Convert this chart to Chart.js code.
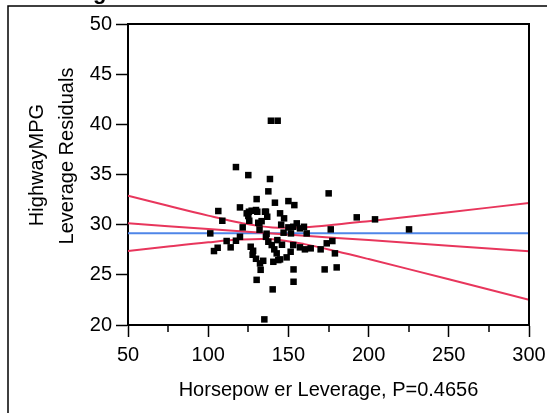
<!DOCTYPE html>
<html>
<head>
<meta charset="utf-8">
<script src="https://cdn.jsdelivr.net/npm/chart.js@4.4.0/dist/chart.umd.min.js"></script>
<style>
html, body { margin: 0; padding: 0; background: #fff; overflow: hidden; }
#wrap { position: relative; width: 547px; height: 413px; }
</style>
</head>
<body>
<div id="wrap"><canvas id="grafico" width="547" height="413"></canvas></div>
<script>
// puntos (Horsepower leverage, HighwayMPG leverage residual)
var HP = [101.3, 103.6, 106.3, 105.9, 108.8, 111.5, 114.0, 117.3, 117.3, 119.8,
          119.8, 121.5, 125.0, 124.0, 125.4, 125.0, 125.6, 126.5, 127.1, 127.7,
          129.8, 129.8, 130.2, 130.2, 131.2, 132.3, 132.7, 133.3, 134.3, 135.4,
          136.0, 136.4, 136.8, 137.5, 138.5, 140.2, 141.6, 135.0, 139.1, 143.3,
          137.5, 139.6, 141.2, 142.7, 143.1, 140.6, 143.7, 144.8, 147.3, 150.0,
          153.7, 150.0, 153.0, 155.2, 157.2, 159.7, 161.4, 151.6, 153.0, 151.4,
          148.9, 144.8, 157.2, 160.3, 163.9, 170.1, 173.9, 177.4, 179.0, 153.2,
          153.2, 172.6, 180.1, 175.1, 176.4, 192.6, 204.0, 225.2, 131.9, 130.6,
          136.0, 145.5, 147.0, 146.0, 128.0, 132.0];
var RESID = [29.13, 27.37, 31.36, 27.70, 30.39, 28.37, 27.74, 35.74, 28.40, 31.72,
             28.79, 29.73, 34.94, 31.13, 31.29, 30.86, 30.39, 27.80, 31.39, 27.00,
             31.46, 26.60, 32.55, 24.50, 30.19, 26.14, 25.50, 30.35, 26.40, 31.29,
             28.79, 29.10, 30.79, 33.32, 34.55, 23.55, 32.19, 20.56, 40.36, 40.36,
             28.30, 27.97, 27.54, 27.14, 28.46, 26.30, 26.47, 31.13, 30.63, 32.35,
             31.95, 29.73, 29.79, 30.13, 29.63, 29.79, 29.13, 29.13, 27.97, 27.30,
             26.74, 26.54, 27.74, 27.54, 27.64, 27.54, 28.14, 28.37, 27.14, 25.54,
             24.31, 25.54, 25.74, 33.12, 29.53, 30.73, 30.53, 29.53, 30.13, 31.29,
             31.29, 30.00, 29.20, 28.00, 27.40, 29.50];

// recta de ajuste y bandas de confianza
var LINEA_X = [50, 75, 100, 120, 140, 160, 180, 200, 250, 300];
var AJUSTE = [30.13, 29.85, 29.57, 29.35, 29.13, 28.90, 28.68, 28.46, 27.90, 27.34];
var SUPERIOR = [32.89, 31.88, 30.90, 30.19, 29.72, 29.74, 30.01, 30.35, 31.24, 32.16];
var INFERIOR = [27.37, 27.82, 28.24, 28.51, 28.54, 28.06, 27.35, 26.57, 24.56, 22.52];
var MEDIA_Y = 29.15;

var X_MIN = 50, X_MAX = 300, X_PASO = 50, X_MENOR = 25;
var Y_MIN = 20, Y_MAX = 50, Y_PASO = 5;

var TITULO = 'Leverage Plot';
var TITULO_X = 'Horsepow er Leverage, P=0.4656';
var TITULO_Y = ['HighwayMPG', 'Leverage Residuals'];

var FUENTE = '"Liberation Sans", Arial, Helvetica, sans-serif';

function armarPuntos(xs, ys) {
    var arr = [];
    for (var i = 0; i < xs.length; i++) {
        arr.push({x: xs[i], y: ys[i]});
    }
    return arr;
}

var marcoPlugin = {
    id: 'marco',
    beforeDraw: function (chart) {
        var ctx = chart.ctx;
        ctx.save();
        ctx.fillStyle = '#fff';
        ctx.fillRect(0, 0, chart.width, chart.height);
        ctx.restore();
    },
    afterDraw: function (chart) {
        var ctx = chart.ctx;
        var a = chart.chartArea;
        var xs = chart.scales.x;
        ctx.save();
        // marco exterior
        ctx.strokeStyle = '#000';
        ctx.lineWidth = 1.5;
        ctx.beginPath();
        ctx.moveTo(8, chart.height);
        ctx.lineTo(8, 6);
        ctx.lineTo(chart.width, 6);
        ctx.stroke();
        // lados superior y derecho del grafico
        ctx.lineWidth = 2;
        ctx.beginPath();
        ctx.moveTo(a.left, a.top);
        ctx.lineTo(a.right, a.top);
        ctx.lineTo(a.right, a.bottom);
        ctx.stroke();
        // marcas menores del eje x
        ctx.lineWidth = 1.5;
        for (var v = X_MIN + X_MENOR; v < X_MAX; v += X_PASO) {
            var px = Math.round(xs.getPixelForValue(v));
            ctx.beginPath();
            ctx.moveTo(px, a.bottom);
            ctx.lineTo(px, a.bottom + 7);
            ctx.stroke();
        }
        ctx.fillStyle = '#000';
        // titulo del eje y, dos lineas
        ctx.font = '20px ' + FUENTE;
        ctx.textAlign = 'center';
        ctx.textBaseline = 'middle';
        ctx.save();
        ctx.translate(37, 165);
        ctx.rotate(-Math.PI / 2);
        ctx.fillText(TITULO_Y[0], 0, 0);
        ctx.restore();
        ctx.save();
        ctx.translate(67, 156);
        ctx.rotate(-Math.PI / 2);
        ctx.fillText(TITULO_Y[1], 0, 0);
        ctx.restore();
        // titulo cortado arriba
        ctx.font = 'bold 22px ' + FUENTE;
        ctx.textBaseline = 'alphabetic';
        ctx.textAlign = 'left';
        ctx.fillText(TITULO, 22, -1);
        ctx.restore();
    }
};

var GRAFICO = new Chart(document.getElementById('grafico'), {
    type: 'scatter',
    data: {
        datasets: [
            {
                data: armarPuntos(HP, RESID),
                pointStyle: 'rect',
                pointRadius: 4.6,
                pointBackgroundColor: '#000',
                pointBorderWidth: 0,
                showLine: false
            },
            {
                data: armarPuntos(LINEA_X, SUPERIOR),
                showLine: true,
                borderColor: '#e8365c',
                borderWidth: 2,
                pointRadius: 0,
                tension: 0.35
            },
            {
                data: armarPuntos(LINEA_X, AJUSTE),
                showLine: true,
                borderColor: '#e8365c',
                borderWidth: 2,
                pointRadius: 0,
                tension: 0
            },
            {
                data: armarPuntos(LINEA_X, INFERIOR),
                showLine: true,
                borderColor: '#e8365c',
                borderWidth: 2,
                pointRadius: 0,
                tension: 0.35
            },
            {
                data: [{x: X_MIN, y: MEDIA_Y}, {x: X_MAX, y: MEDIA_Y}],
                showLine: true,
                borderColor: '#4f86e8',
                borderWidth: 2,
                pointRadius: 0
            }
        ]
    },
    options: {
        responsive: false,
        animation: false,
        layout: {
            padding: {left: 0, top: 24, right: 18, bottom: 0}
        },
        plugins: {
            legend: {display: false},
            tooltip: {enabled: false}
        },
        scales: {
            x: {
                type: 'linear',
                min: X_MIN,
                max: X_MAX,
                afterFit: function (s) {
                    s.height = 88;
                    s.paddingLeft = 0;
                    s.paddingRight = 0;
                },
                ticks: {
                    stepSize: X_PASO,
                    color: '#000',
                    padding: 6,
                    maxRotation: 0,
                    font: {family: FUENTE, size: 20}
                },
                grid: {
                    drawOnChartArea: false,
                    drawTicks: true,
                    tickLength: 12,
                    tickWidth: 1.5,
                    tickColor: '#000'
                },
                border: {display: true, color: '#000', width: 2},
                title: {
                    display: true,
                    text: TITULO_X,
                    color: '#000',
                    font: {family: FUENTE, size: 20},
                    padding: {top: 0, bottom: 11}
                }
            },
            y: {
                type: 'linear',
                min: Y_MIN,
                max: Y_MAX,
                afterFit: function (s) {
                    s.width = 128;
                    s.paddingTop = 0;
                    s.paddingBottom = 0;
                },
                ticks: {
                    stepSize: Y_PASO,
                    color: '#000',
                    padding: 4,
                    font: {family: FUENTE, size: 20}
                },
                grid: {
                    drawOnChartArea: false,
                    drawTicks: true,
                    tickLength: 12,
                    tickWidth: 1.5,
                    tickColor: '#000'
                },
                border: {display: true, color: '#000', width: 2}
            }
        }
    },
    plugins: [marcoPlugin]
});
</script>
</body>
</html>
